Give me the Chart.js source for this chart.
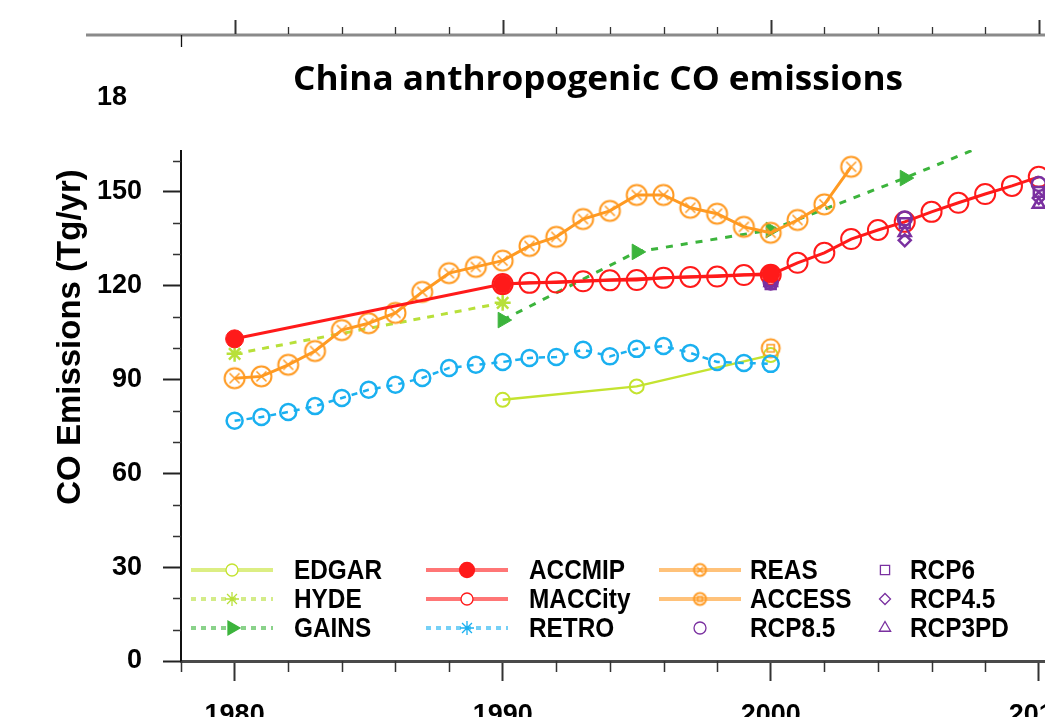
<!DOCTYPE html>
<html>
<head>
<meta charset="utf-8">
<script src="https://cdn.jsdelivr.net/npm/chart.js@4.4.0/dist/chart.umd.min.js"></script>
<style>
  html, body { margin: 0; padding: 0; background: #fff; overflow: hidden; }
  #wrap { position: absolute; left: 0; top: 0; width: 1200px; height: 760px; }
</style>
</head>
<body>
<div id="wrap"><canvas id="chart" width="1200" height="760"></canvas></div>
<script>
// China anthropogenic CO emissions (Tg/yr)
const edgarYears = [1990, 1995, 2000];
const edgarValues = [83.5, 87.8, 97.8];

const hydeYears = [1980, 1990];
const hydeValues = [98.2, 114.5];

const gainsYears = [1990, 1995, 2000, 2005, 2010];
const gainsValues = [109, 130.8, 137.8, 154.4, 172];

const accmipYears = [1980, 1990, 2000];
const accmipValues = [103, 120.5, 123.8];

const maccYears = [1990, 1991, 1992, 1993, 1994, 1995, 1996, 1997, 1998, 1999, 2000,
                   2001, 2002, 2003, 2004, 2005, 2006, 2007, 2008, 2009, 2010];
const maccValues = [120.5, 120.9, 121, 121.4, 121.7, 121.8, 122.5, 122.8, 122.9, 123.4, 123.5,
                    127.3, 130.5, 134.9, 137.8, 140.4, 143.6, 146.5, 149.3, 151.9, 154.8];

const retroYears = [1980, 1981, 1982, 1983, 1984, 1985, 1986, 1987, 1988, 1989, 1990,
                    1991, 1992, 1993, 1994, 1995, 1996, 1997, 1998, 1999, 2000];
const retroValues = [76.8, 78, 79.6, 81.5, 84.1, 86.7, 88.3, 90.5, 93.7, 94.7, 95.6,
                     96.9, 97.2, 99.5, 97.4, 99.8, 100.7, 98.5, 95.6, 95.3, 95];

const reasYears = [1980, 1981, 1982, 1983, 1984, 1985, 1986, 1987, 1988, 1989, 1990, 1991,
                   1992, 1993, 1994, 1995, 1996, 1997, 1998, 1999, 2000, 2001, 2002, 2003];
const reasValues = [90.4, 91, 94.7, 99.1, 105.8, 108, 111.3, 118, 124, 126, 128, 132.7,
                    135.6, 141.3, 143.9, 149, 149, 144.9, 143, 138.8, 136.9, 141, 146, 158];

const accessYears = [2000];
const accessValues = [100];

const rcpYears = [2000, 2005, 2010];
const rcp85Values = [121, 141.5, 152.5];
const rcp6Values = [120.5, 140, 150];
const rcp45Values = [121, 134.5, 148];
const rcp3pdValues = [121, 137, 146];

const xTickStep = 2;
const yTickStep = 10;

// colours
const cEdgar = '#c4e330';
const cHyde = '#b8e03a';
const cGains = '#3cb43c';
const cRed = '#ff1a1a';
const cRetro = '#1ab0f0';
const cOrange = '#ff9a22';
const cPurple = '#7a30a0';

const sansBold = "'Liberation Sans', Arial, sans-serif";

function pts(years, values) {
    return years.map((y, i) => ({ x: y, y: values[i] }));
}

// ring markers with an inner sign, used for REAS and ACCESS
function ringMarker(color, r, inner) {
    const c = document.createElement('canvas');
    const s = Math.ceil(r * 2 + 5);
    c.width = s;
    c.height = s;
    const g = c.getContext('2d');
    const m = s / 2;
    g.strokeStyle = color;
    g.lineWidth = 2;
    g.beginPath();
    g.arc(m, m, r, 0, Math.PI * 2);
    g.stroke();
    if (inner === 'cross') {
        const a = r * 0.5;
        g.lineWidth = 1.5;
        g.beginPath();
        g.moveTo(m - a, m - a); g.lineTo(m + a, m + a);
        g.moveTo(m + a, m - a); g.lineTo(m - a, m + a);
        g.stroke();
    } else if (inner === 'square') {
        const a = r * 0.4;
        g.lineWidth = 1.5;
        g.strokeRect(m - a, m - a, 2 * a, 2 * a);
    }
    return c;
}

const reasMark = ringMarker(cOrange, 10, 'cross');
const accessMark = ringMarker(cOrange, 9, 'square');
const reasLegendMark = ringMarker(cOrange, 6, 'cross');
const accessLegendMark = ringMarker(cOrange, 6, 'square');

const clear = 'rgba(255,255,255,0)';

const datasets = [
    { label: 'EDGAR', data: pts(edgarYears, edgarValues), borderColor: cEdgar, borderWidth: 2.5,
      pointStyle: 'circle', pointRadius: 7, pointBorderWidth: 2, pointBorderColor: cEdgar,
      pointBackgroundColor: clear, order: 7 },
    { label: 'HYDE', data: pts(hydeYears, hydeValues), borderColor: cHyde, borderWidth: 3, borderDash: [7, 7],
      pointStyle: 'star', pointRadius: 8, pointBorderWidth: 2.5, pointBorderColor: cHyde, order: 6 },
    { label: 'GAINS', data: pts(gainsYears, gainsValues), borderColor: cGains, borderWidth: 3, borderDash: [7, 8],
      pointStyle: 'triangle', pointRotation: 90, pointRadius: 9, pointBorderWidth: 1,
      pointBorderColor: cGains, pointBackgroundColor: cGains, order: 5 },
    { label: 'ACCMIP', data: pts(accmipYears, accmipValues), borderColor: cRed, borderWidth: 3,
      pointStyle: 'circle', pointRadius: 9, pointBorderWidth: 1, pointBorderColor: cRed,
      pointBackgroundColor: cRed, order: -2 },
    { label: 'MACCity', data: pts(maccYears, maccValues), borderColor: cRed, borderWidth: 3,
      pointStyle: 'circle', pointRadius: 10, pointBorderWidth: 2, pointBorderColor: cRed,
      pointBackgroundColor: clear, order: 3 },
    { label: 'RETRO', data: pts(retroYears, retroValues), borderColor: cRetro, borderWidth: 2.5, borderDash: [6, 6],
      pointStyle: 'circle', pointRadius: 8, pointBorderWidth: 2.5, pointBorderColor: cRetro,
      pointBackgroundColor: clear, order: 2 },
    { label: 'REAS', data: pts(reasYears, reasValues), borderColor: cOrange, borderWidth: 3,
      pointStyle: reasMark, order: 1 },
    { label: 'ACCESS', data: pts(accessYears, accessValues), borderColor: cOrange, borderWidth: 3,
      pointStyle: accessMark, order: 4 },
    { label: 'RCP8.5', data: pts(rcpYears, rcp85Values), showLine: false, pointStyle: 'circle', pointRadius: 7,
      pointBorderWidth: 2.5, pointBorderColor: cPurple, pointBackgroundColor: clear, order: -1 },
    { label: 'RCP6', data: pts(rcpYears, rcp6Values), showLine: false, pointStyle: 'rect', pointRadius: 7,
      pointBorderWidth: 2.5, pointBorderColor: cPurple, pointBackgroundColor: clear, order: -1 },
    { label: 'RCP4.5', data: pts(rcpYears, rcp45Values), showLine: false, pointStyle: 'rectRot', pointRadius: 6,
      pointBorderWidth: 2.5, pointBorderColor: cPurple, pointBackgroundColor: clear, order: -1 },
    { label: 'RCP3PD', data: pts(rcpYears, rcp3pdValues), showLine: false, pointStyle: 'triangle', pointRadius: 7,
      pointBorderWidth: 2.5, pointBorderColor: cPurple, pointBackgroundColor: clear, order: -1 }
];

// legend look, column by column (3 rows each)
const legendItems = [
    { label: 'EDGAR', color: cEdgar, line: true, dash: [], mark: { pointStyle: 'circle', radius: 6, borderWidth: 2 }, fill: '#fff' },
    { label: 'HYDE', color: cHyde, line: true, dash: [5, 5], mark: { pointStyle: 'star', radius: 7, borderWidth: 2 } },
    { label: 'GAINS', color: cGains, line: true, dash: [5, 5], mark: { pointStyle: 'triangle', rotation: 90, radius: 8, borderWidth: 1 }, fill: cGains },
    { label: 'ACCMIP', color: cRed, line: true, dash: [], mark: { pointStyle: 'circle', radius: 7.5, borderWidth: 1 }, fill: cRed },
    { label: 'MACCity', color: cRed, line: true, dash: [], mark: { pointStyle: 'circle', radius: 6, borderWidth: 2 }, fill: '#fff' },
    { label: 'RETRO', color: cRetro, line: true, dash: [5, 5], mark: { pointStyle: 'star', radius: 7, borderWidth: 2 } },
    { label: 'REAS', color: cOrange, line: true, dash: [], mark: { pointStyle: reasLegendMark, radius: 6 } },
    { label: 'ACCESS', color: cOrange, line: true, dash: [], mark: { pointStyle: accessLegendMark, radius: 6 } },
    { label: 'RCP8.5', color: cPurple, line: false, mark: { pointStyle: 'circle', radius: 6, borderWidth: 2 }, fill: '#fff' },
    { label: 'RCP6', color: cPurple, line: false, mark: { pointStyle: 'rect', radius: 6.5, borderWidth: 2 }, fill: '#fff' },
    { label: 'RCP4.5', color: cPurple, line: false, mark: { pointStyle: 'rectRot', radius: 5.5, borderWidth: 2 }, fill: '#fff' },
    { label: 'RCP3PD', color: cPurple, line: false, mark: { pointStyle: 'triangle', radius: 6.5, borderWidth: 2 }, fill: '#fff' }
];
const legendCols = [
    { mark: 232, text: 294 },
    { mark: 467, text: 529 },
    { mark: 700, text: 750 },
    { mark: 885, text: 910 }
];
const legendRows = [570, 599, 628];

const framePlugin = {
    id: 'frame',
    afterDraw(chart) {
        const ctx = chart.ctx;
        const xs = chart.scales.x;
        const ys = chart.scales.y;
        const area = chart.chartArea;
        ctx.save();

        // minor ticks
        ctx.strokeStyle = '#333';
        ctx.lineWidth = 1.5;
        ctx.beginPath();
        xs.ticks.forEach(t => {
            if (t.value % 10 !== 0) {
                const px = Math.round(xs.getPixelForValue(t.value)) + 0.5;
                ctx.moveTo(px, area.bottom);
                ctx.lineTo(px, area.bottom + 11);
            }
        });
        ys.ticks.forEach(t => {
            if (t.value % 30 !== 0) {
                const py = Math.round(ys.getPixelForValue(t.value)) + 0.5;
                ctx.moveTo(area.left - 8, py);
                ctx.lineTo(area.left, py);
            }
        });
        ctx.stroke();

        // the upper part of the figure is covered by the title panel
        ctx.fillStyle = '#fff';
        ctx.fillRect(128, 0, chart.width, 150);

        // axis strip of the panel above
        ctx.strokeStyle = '#8a8a8a';
        ctx.lineWidth = 3;
        ctx.beginPath();
        ctx.moveTo(86, 35);
        ctx.lineTo(chart.width, 35);
        ctx.stroke();
        ctx.strokeStyle = '#333';
        for (let yr = 1980; yr <= 2014; yr += 2) {
            const px = Math.round(xs.getPixelForValue(yr)) + 0.5;
            const major = yr % 10 === 0;
            ctx.lineWidth = major ? 2 : 1.3;
            ctx.beginPath();
            ctx.moveTo(px, 34);
            ctx.lineTo(px, major ? 20 : 27);
            ctx.stroke();
        }
        ctx.strokeStyle = '#111';
        ctx.lineWidth = 1.3;
        ctx.beginPath();
        ctx.moveTo(area.left + 0.5, 35);
        ctx.lineTo(area.left + 0.5, 47);
        ctx.stroke();

        // title
        const title = 'China anthropogenic CO emissions';
        ctx.font = "bold 34px 'Open Sans', sans-serif";
        ctx.fillStyle = '#000';
        ctx.textBaseline = 'alphabetic';
        ctx.textAlign = 'left';
        const tw = ctx.measureText(title).width;
        ctx.save();
        ctx.translate(293, 90);
        ctx.scale(610 / tw, 1);
        ctx.fillText(title, 0, 0);
        ctx.restore();

        // y axis title
        ctx.save();
        ctx.translate(80, 337);
        ctx.rotate(-Math.PI / 2);
        ctx.font = 'bold 33px ' + sansBold;
        ctx.textAlign = 'center';
        ctx.fillText('CO Emissions (Tg/yr)', 0, 0);
        ctx.restore();

        // legend
        legendItems.forEach((it, i) => {
            const col = legendCols[Math.floor(i / 3)];
            const y = legendRows[i % 3];
            if (it.line) {
                ctx.save();
                ctx.globalAlpha = 0.6;
                ctx.strokeStyle = it.color;
                ctx.lineWidth = 4;
                ctx.setLineDash(it.dash);
                ctx.beginPath();
                ctx.moveTo(col.mark - 41, y);
                ctx.lineTo(col.mark + 41, y);
                ctx.stroke();
                ctx.restore();
            }
            ctx.save();
            ctx.strokeStyle = it.color;
            ctx.fillStyle = it.fill || it.color;
            ctx.setLineDash([]);
            Chart.helpers.drawPoint(ctx, it.mark, col.mark, y);
            ctx.restore();
            // the figure's lettering is narrow
            ctx.save();
            ctx.translate(col.text, y + 1);
            ctx.scale(0.87, 1);
            ctx.fillStyle = '#000';
            ctx.font = 'bold 28px ' + sansBold;
            ctx.textAlign = 'left';
            ctx.textBaseline = 'middle';
            ctx.fillText(it.label, 0, 0);
            ctx.restore();
        });
        ctx.restore();
    }
};

new Chart(document.getElementById('chart'), {
    type: 'line',
    data: { datasets: datasets },
    options: {
        responsive: false,
        animation: false,
        devicePixelRatio: 1,
        layout: { padding: { top: 98, right: 54, left: 0, bottom: 0 } },
        elements: { line: { tension: 0 } },
        plugins: {
            legend: { display: false },
            title: { display: false },
            tooltip: { enabled: false }
        },
        scales: {
            x: {
                type: 'linear',
                min: 1978,
                max: 2014,
                afterFit: s => { s.height = 99; },
                ticks: {
                    stepSize: xTickStep,
                    autoSkip: false,
                    maxRotation: 0,
                    padding: 18,
                    color: '#000',
                    font: { family: sansBold, size: 27, weight: 'bold' },
                    callback: v => (v % 10 === 0 ? String(v) : '')
                },
                grid: {
                    drawOnChartArea: false,
                    tickLength: 20,
                    tickWidth: 2,
                    tickColor: c => (c.tick && c.tick.value % 10 === 0 ? '#333' : 'rgba(0,0,0,0)')
                },
                border: { color: '#4a4a4a', width: 3 }
            },
            y: {
                min: 0,
                max: 180,
                afterFit: s => { s.width = 181; },
                ticks: {
                    stepSize: yTickStep,
                    autoSkip: false,
                    padding: 21,
                    color: '#000',
                    font: { family: sansBold, size: 27, weight: 'bold' },
                    callback: v => (v % 30 === 0 ? String(v) : '')
                },
                grid: {
                    drawOnChartArea: false,
                    tickLength: 18,
                    tickWidth: 2,
                    tickColor: c => (c.tick && c.tick.value % 30 === 0 ? '#222' : 'rgba(0,0,0,0)')
                },
                border: { color: '#111', width: 2 }
            }
        }
    },
    plugins: [framePlugin]
});
</script>
</body>
</html>
